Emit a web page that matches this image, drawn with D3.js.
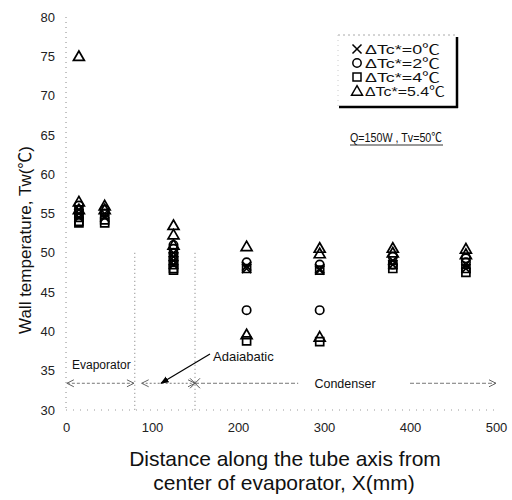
<!DOCTYPE html>
<meta charset="utf-8">
<script src="https://d3js.org/d3.v7.min.js"></script>
<style>
  body { margin: 0; background: #fff; }
  text { font-family: "Liberation Sans", Arial, "Noto Sans CJK KR", sans-serif; }
</style>
<div id="chart"></div>
<script>

// measuring stations along the tube (mm)
var stations = [15, 45, 125, 210, 295, 380, 465];

// wall temperatures at each station, several thermocouples per station
var tc0  = [[55.5, 55, 54.5], [55, 54.5], [50, 49.5, 49, 48.5], [48.3, 48], [48, 47.8], [49, 48.5], [48.5, 48]];
var tc2  = [[56, 55.5], [55.5, 55], [51, 50.5, 50], [48.8, 42.7], [48.5, 42.7], [49.5, 48.5], [49.3, 48.8]];
var tc4  = [[55, 54.5, 54, 53.8], [54.2, 53.8], [49.5, 49, 48.5, 48, 47.8], [48, 38.8], [47.8, 38.7], [48.5, 48], [48, 47.5]];
var tc54 = [[75, 56.5, 55.5], [56, 55.5], [53.5, 52.3, 51], [50.8, 39.6], [50.6, 49.9, 39.3], [50.6, 50], [50.5, 49.8]];

var seriesNames = ["\u0394Tc*=0\u2103", "\u0394Tc*=2\u2103", "\u0394Tc*=4\u2103", "\u0394Tc*=5.4\u2103"];
var yTicks = [30, 35, 40, 45, 50, 55, 60, 65, 70, 75, 80];
var xTicks = [0, 100, 200, 300, 400, 500];

var width = 512, height = 500;

var svg = d3.select("#chart").append("svg")
    .attr("width", width)
    .attr("height", height);

var x = d3.scaleLinear().domain([0, 500]).range([66, 496]);
var y = d3.scaleLinear().domain([30, 80]).range([410, 17]);

// faint dotted frame lines
svg.append("line")
    .attr("x1", x(0)).attr("x2", x(0))
    .attr("y1", y(80)).attr("y2", y(30))
    .attr("stroke", "#888").attr("stroke-width", 1)
    .attr("stroke-dasharray", "1,4");
svg.append("line")
    .attr("x1", x(0)).attr("x2", x(500))
    .attr("y1", y(30)).attr("y2", y(30))
    .attr("stroke", "#999").attr("stroke-width", 1)
    .attr("stroke-dasharray", "1,6");

// region boundaries
[80, 150].forEach(function(v) {
  svg.append("line")
      .attr("x1", x(v)).attr("x2", x(v))
      .attr("y1", y(50)).attr("y2", y(30))
      .attr("stroke", "#777").attr("stroke-width", 1)
      .attr("stroke-dasharray", "1,3");
});

// axes
var yAxis = svg.append("g")
    .attr("transform", "translate(" + x(0) + ",0)")
    .call(d3.axisLeft(y).tickValues(yTicks).tickSize(0).tickPadding(11));
var xAxis = svg.append("g")
    .attr("transform", "translate(0," + y(30) + ")")
    .call(d3.axisBottom(x).tickValues(xTicks).tickSize(0).tickPadding(13));
[yAxis, xAxis].forEach(function(g) {
  g.select(".domain").remove();
  g.selectAll("text")
      .style("font-family", "'Liberation Sans', Arial, sans-serif")
      .style("font-size", "13px")
      .attr("fill", "#222");
});

// axis titles
svg.append("text")
    .attr("transform", "translate(25,240) rotate(-90)")
    .attr("text-anchor", "middle")
    .attr("dominant-baseline", "central")
    .style("font-size", "17px")
    .attr("fill", "#111")
    .text("Wall temperature, Tw(\u2103)");
svg.append("text")
    .attr("x", 285).attr("y", 466)
    .attr("text-anchor", "middle")
    .style("font-size", "21px")
    .attr("fill", "#111")
    .text("Distance along the tube axis from");
svg.append("text")
    .attr("x", 284).attr("y", 490)
    .attr("text-anchor", "middle")
    .style("font-size", "21px")
    .attr("fill", "#111")
    .text("center of evaporator, X(mm)");

// markers
var shapes = [d3.symbolTimes, d3.symbolCircle, d3.symbolSquare, d3.symbolTriangle];
var sizes = [55, 55, 64, 52];
var allSeries = [tc4, tc2, tc0, tc54];
var order = [2, 1, 0, 3];

allSeries.forEach(function(series, k) {
  var s = order[k];
  var pts = [];
  series.forEach(function(vals, i) {
    vals.forEach(function(v) { pts.push({x: stations[i], v: v}); });
  });
  svg.append("g")
    .selectAll("path")
    .data(pts)
    .enter().append("path")
      .attr("transform", function(d) {
        var dy = s === 3 ? 1 : 0;
        return "translate(" + x(d.x) + "," + (y(d.v) + dy) + ")";
      })
      .attr("d", d3.symbol().type(shapes[s]).size(sizes[s]))
      .attr("fill", "none")
      .attr("stroke", "#000")
      .attr("stroke-width", 1.7);
});

// legend
var lg = svg.append("g");
lg.append("line").attr("x1", 338).attr("x2", 458).attr("y1", 35).attr("y2", 35)
    .attr("stroke", "#aaa").attr("stroke-dasharray", "2,3");
lg.append("line").attr("x1", 338).attr("x2", 338).attr("y1", 35).attr("y2", 107)
    .attr("stroke", "#ccc").attr("stroke-dasharray", "1,4");
lg.append("line").attr("x1", 457).attr("x2", 457).attr("y1", 37).attr("y2", 108)
    .attr("stroke", "#000").attr("stroke-width", 2.5);
lg.append("line").attr("x1", 339).attr("x2", 458).attr("y1", 107).attr("y2", 107)
    .attr("stroke", "#000").attr("stroke-width", 2.5);
var legendY = [49, 63, 77, 91];
var legendLen = [75, 75, 75, 80];
seriesNames.forEach(function(name, i) {
  lg.append("path")
      .attr("transform", "translate(357," + (legendY[i] + (i === 3 ? 1 : 0)) + ")")
      .attr("d", d3.symbol().type(shapes[i]).size(sizes[i]))
      .attr("fill", "none")
      .attr("stroke", "#000")
      .attr("stroke-width", 1.5);
  lg.append("text")
      .attr("x", 365).attr("y", legendY[i] + 5)
      .attr("textLength", legendLen[i])
      .attr("lengthAdjust", "spacingAndGlyphs")
      .style("font-size", "13.5px")
      .attr("fill", "#111")
      .text(name);
});

svg.append("text")
    .attr("x", 350).attr("y", 142)
    .attr("textLength", 92)
    .attr("lengthAdjust", "spacingAndGlyphs")
    .style("font-size", "12.5px")
    .attr("fill", "#111")
    .text("Q=150W , Tv=50\u2103");
svg.append("line").attr("x1", 350).attr("x2", 443).attr("y1", 145).attr("y2", 145)
    .attr("stroke", "#333").attr("stroke-width", 1);

// region annotations
var ay = y(33.4);
function dblArrow(a, b, dash) {
  svg.append("line")
      .attr("x1", x(a)).attr("x2", x(b)).attr("y1", ay).attr("y2", ay)
      .attr("stroke", "#777").attr("stroke-width", 1)
      .attr("stroke-dasharray", dash);
  [[x(a), 1], [x(b), -1]].forEach(function(p) {
    svg.append("path")
        .attr("d", "M" + (p[0] + 7 * p[1]) + "," + (ay - 3.5) + "L" + p[0] + "," + ay +
                   "L" + (p[0] + 7 * p[1]) + "," + (ay + 3.5))
        .attr("fill", "none").attr("stroke", "#666").attr("stroke-width", 1);
  });
}
dblArrow(1, 79, "3,2");
dblArrow(88, 150, "2,2");

// condenser arrow, interrupted by its label
svg.append("line").attr("x1", x(150)).attr("x2", x(270)).attr("y1", ay).attr("y2", ay)
    .attr("stroke", "#777").attr("stroke-dasharray", "4,2");
svg.append("line").attr("x1", x(400)).attr("x2", x(500)).attr("y1", ay).attr("y2", ay)
    .attr("stroke", "#777").attr("stroke-dasharray", "4,2");
svg.append("path")
    .attr("d", "M" + (x(500) - 7) + "," + (ay - 3.5) + "L" + x(500) + "," + ay + "L" + (x(500) - 7) + "," + (ay + 3.5))
    .attr("fill", "none").attr("stroke", "#666");
svg.append("path")
    .attr("d", "M" + (x(150) - 5) + "," + (ay - 5) + "L" + (x(150) + 5) + "," + (ay + 5) +
               "M" + (x(150) - 5) + "," + (ay + 5) + "L" + (x(150) + 5) + "," + (ay - 5))
    .attr("fill", "none").attr("stroke", "#555");

svg.append("text").attr("x", 72).attr("y", y(35.2))
    .style("font-size", "12px").attr("fill", "#111").text("Evaporator");
svg.append("text").attr("x", 345).attr("y", ay + 4.5)
    .attr("text-anchor", "middle")
    .style("font-size", "12.5px").attr("fill", "#111").text("Condenser");
svg.append("text").attr("x", 213).attr("y", 361)
    .style("font-size", "13px").attr("fill", "#111").text("Adaiabatic");

// arrow pointing into the adiabatic zone
svg.append("defs").append("marker")
    .attr("id", "head").attr("viewBox", "0 0 10 10")
    .attr("refX", 9).attr("refY", 5)
    .attr("markerWidth", 7).attr("markerHeight", 7)
    .attr("orient", "auto")
  .append("path").attr("d", "M0,1L10,5L0,9Z").attr("fill", "#000");
svg.append("line")
    .attr("x1", 210).attr("y1", 354)
    .attr("x2", 161).attr("y2", ay)
    .attr("stroke", "#000").attr("stroke-width", 1.2)
    .attr("marker-end", "url(#head)");

</script>
